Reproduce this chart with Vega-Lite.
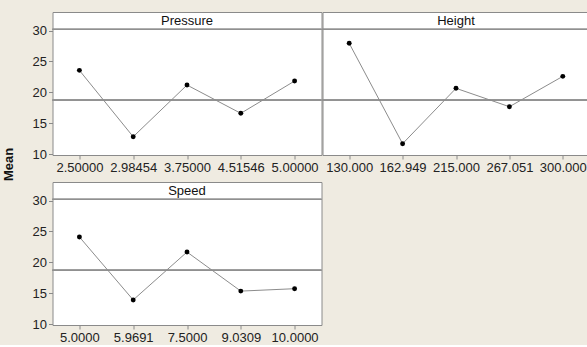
{
  "$schema": "https://vega.github.io/schema/vega-lite/v6.json",
  "background": "#efebe1",
  "padding": {"left": 1.5, "top": 11, "right": 0, "bottom": 0},
  "data": {"values": [
    {"factor": "Pressure", "level": "2.50000", "mean": 23.55},
    {"factor": "Pressure", "level": "2.98454", "mean": 12.8},
    {"factor": "Pressure", "level": "3.75000", "mean": 21.17},
    {"factor": "Pressure", "level": "4.51546", "mean": 16.59},
    {"factor": "Pressure", "level": "5.00000", "mean": 21.82},
    {"factor": "Height", "level": "130.000", "mean": 27.93},
    {"factor": "Height", "level": "162.949", "mean": 11.67},
    {"factor": "Height", "level": "215.000", "mean": 20.64},
    {"factor": "Height", "level": "267.051", "mean": 17.66},
    {"factor": "Height", "level": "300.000", "mean": 22.58},
    {"factor": "Speed", "level": "5.0000", "mean": 24.1},
    {"factor": "Speed", "level": "5.9691", "mean": 13.9},
    {"factor": "Speed", "level": "7.5000", "mean": 21.66},
    {"factor": "Speed", "level": "9.0309", "mean": 15.33},
    {"factor": "Speed", "level": "10.0000", "mean": 15.72}
  ]},
  "config": {
    "view": {"fill": "white", "stroke": "#8a8a8a", "strokeWidth": 1},
    "axis": {
      "labelFont": "Liberation Sans", "labelFontSize": 13, "labelColor": "#222222",
      "domain": false, "grid": false, "tickColor": "#8a8a8a", "tickSize": 4, "labelPadding": 2
    },
    "title": {"font": "Liberation Sans", "fontSize": 13, "fontWeight": "normal", "color": "#111111", "anchor": "middle", "offset": -16, "frame": "group"}
  },
  "spacing": -2,
  "vconcat": [
    {
      "spacing": -4,
      "hconcat": [
        {
          "width": 269, "height": 143,
          "title": "Pressure",
          "transform": [{"filter": "datum.factor === 'Pressure'"}],
          "encoding": {
            "x": {"field": "level", "type": "nominal", "sort": null, "scale": {"type": "point", "padding": 0.5}, "axis": {"labelAngle": 0, "title": null}},
            "y": {"field": "mean", "type": "quantitative", "scale": {"domain": [9.84, 33.0], "nice": false, "zero": false},
                  "axis": {"values": [10, 15, 20, 25, 30], "title": "Mean", "titleFont": "Liberation Sans", "titleFontSize": 13, "titleFontWeight": "bold", "titleColor": "#111111", "titleX": -37, "titleY": 152}}
          },
          "layer": [
            {"mark": {"type": "rule", "color": "#909090", "strokeWidth": 1}, "encoding": {"y": {"datum": 18.74}, "x": {"value": 0}, "x2": {"value": "width"}}},
            {"mark": {"type": "rule", "color": "#909090", "strokeWidth": 1}, "encoding": {"y": {"datum": 30.2}, "x": {"value": 0}, "x2": {"value": "width"}}},
            {"mark": {"type": "line", "color": "#8c8c8c", "strokeWidth": 1}},
            {"mark": {"type": "point", "filled": true, "color": "black", "size": 24, "opacity": 1}}
          ]
        },
        {
          "width": 267, "height": 143,
          "title": "Height",
          "transform": [{"filter": "datum.factor === 'Height'"}],
          "encoding": {
            "x": {"field": "level", "type": "nominal", "sort": null, "scale": {"type": "point", "padding": 0.5}, "axis": {"labelAngle": 0, "title": null}},
            "y": {"field": "mean", "type": "quantitative", "scale": {"domain": [9.84, 33.0], "nice": false, "zero": false}, "axis": null}
          },
          "layer": [
            {"mark": {"type": "rule", "color": "#909090", "strokeWidth": 1}, "encoding": {"y": {"datum": 18.74}, "x": {"value": 0}, "x2": {"value": "width"}}},
            {"mark": {"type": "rule", "color": "#909090", "strokeWidth": 1}, "encoding": {"y": {"datum": 30.2}, "x": {"value": 0}, "x2": {"value": "width"}}},
            {"mark": {"type": "line", "color": "#8c8c8c", "strokeWidth": 1}},
            {"mark": {"type": "point", "filled": true, "color": "black", "size": 24, "opacity": 1}}
          ]
        }
      ]
    },
    {
      "width": 269, "height": 143,
      "title": "Speed",
      "transform": [{"filter": "datum.factor === 'Speed'"}],
      "encoding": {
        "x": {"field": "level", "type": "nominal", "sort": null, "scale": {"type": "point", "padding": 0.5}, "axis": {"labelAngle": 0, "title": null}},
        "y": {"field": "mean", "type": "quantitative", "scale": {"domain": [9.84, 33.0], "nice": false, "zero": false}, "axis": {"values": [10, 15, 20, 25, 30], "title": null}}
      },
      "layer": [
        {"mark": {"type": "rule", "color": "#909090", "strokeWidth": 1}, "encoding": {"y": {"datum": 18.72}, "x": {"value": 0}, "x2": {"value": "width"}}},
        {"mark": {"type": "rule", "color": "#909090", "strokeWidth": 1}, "encoding": {"y": {"datum": 30.2}, "x": {"value": 0}, "x2": {"value": "width"}}},
        {"mark": {"type": "line", "color": "#8c8c8c", "strokeWidth": 1}},
        {"mark": {"type": "point", "filled": true, "color": "black", "size": 24, "opacity": 1}}
      ]
    }
  ]
}
